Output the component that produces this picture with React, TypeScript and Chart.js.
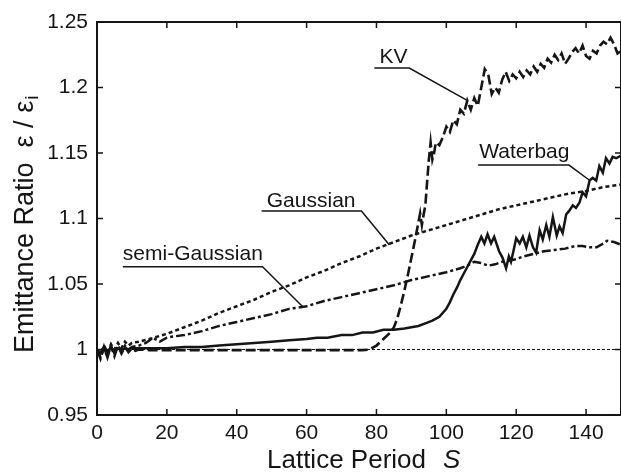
import React, { useEffect, useRef } from "react";
import { Chart, registerables } from "chart.js";

Chart.register(...registerables);

// ---------------- data ----------------
const kvS = [0, 1, 2, 3, 4, 5, 6, 7, 8, 9, 10, 11, 12, 15, 20, 30, 40, 50, 60, 70, 76, 78, 80, 82, 84, 85, 86, 87, 88, 89, 90, 91, 92, 92.5, 93, 93.5, 94, 94.5, 95, 95.5, 96, 96.5, 97, 98, 99, 100, 101, 102, 103, 104, 105, 106, 107, 108, 109, 110, 111, 112, 113, 114, 115, 116, 117, 118, 119, 120, 121, 122, 123, 124, 125, 126, 127, 128, 129, 130, 131, 132, 133, 134, 135, 136, 137, 138, 139, 140, 141, 142, 143, 144, 145, 146, 147, 148, 149, 150];
const kvE = [1.000, 0.993, 1.002, 0.994, 1.003, 0.995, 1.003, 0.997, 1.002, 0.998, 1.001, 0.999, 1.000, 0.9995, 0.9995, 0.9995, 0.9995, 0.9995, 0.9995, 0.9995, 0.9995, 1.000, 1.003, 1.008, 1.013, 1.017, 1.024, 1.034, 1.045, 1.057, 1.070, 1.083, 1.097, 1.104, 1.095, 1.103, 1.110, 1.128, 1.145, 1.158, 1.145, 1.150, 1.158, 1.156, 1.162, 1.170, 1.166, 1.175, 1.172, 1.183, 1.180, 1.190, 1.183, 1.192, 1.186, 1.200, 1.214, 1.210, 1.195, 1.200, 1.196, 1.206, 1.212, 1.205, 1.210, 1.207, 1.212, 1.208, 1.213, 1.210, 1.216, 1.212, 1.218, 1.215, 1.222, 1.219, 1.225, 1.221, 1.226, 1.218, 1.222, 1.227, 1.230, 1.226, 1.232, 1.224, 1.222, 1.228, 1.226, 1.232, 1.235, 1.233, 1.238, 1.233, 1.226, 1.228];

const wbS = [0, 1, 2, 3, 4, 5, 6, 7, 8, 9, 10, 15, 20, 25, 30, 35, 40, 45, 50, 55, 60, 63, 66, 70, 73, 76, 79, 82, 85, 88, 90, 92, 94, 96, 98, 100, 101, 102, 103, 104, 105, 106, 107, 108, 109, 110, 110.9, 111.8, 112.8, 113.7, 115.1, 116.1, 117.1, 117.9, 118.5, 119.2, 120, 121, 121.9, 122.9, 123.8, 124.8, 125.7, 126.7, 127.6, 128.6, 129.5, 130.5, 131.6, 132.4, 133.3, 134.3, 135.2, 136.2, 137.1, 138.1, 139, 140, 141, 141.9, 142.9, 143.8, 144.8, 145.7, 146.7, 147.6, 148.6, 150];
const wbE = [1.000, 0.997, 1.002, 0.998, 1.001, 0.999, 1.001, 1.000, 1.001, 1.000, 1.001, 1.001, 1.001, 1.002, 1.002, 1.003, 1.004, 1.005, 1.006, 1.007, 1.008, 1.009, 1.009, 1.011, 1.011, 1.013, 1.013, 1.015, 1.015, 1.016, 1.017, 1.018, 1.020, 1.022, 1.025, 1.031, 1.036, 1.042, 1.047, 1.053, 1.058, 1.063, 1.068, 1.073, 1.080, 1.086, 1.081, 1.088, 1.081, 1.086, 1.075, 1.070, 1.062, 1.071, 1.067, 1.075, 1.085, 1.081, 1.086, 1.078, 1.087, 1.078, 1.074, 1.091, 1.084, 1.095, 1.086, 1.101, 1.087, 1.094, 1.089, 1.103, 1.106, 1.110, 1.108, 1.112, 1.120, 1.117, 1.129, 1.131, 1.129, 1.140, 1.135, 1.146, 1.142, 1.147, 1.146, 1.148];

const gaS = [0, 1, 2, 3, 4, 5, 6, 7, 8, 9, 10, 12, 15, 20, 25, 30, 35, 40, 45, 50, 55, 60, 65, 70, 75, 80, 85, 90, 95, 100, 105, 110, 115, 120, 125, 130, 135, 140, 145, 150];
const gaE = [1.000, 0.997, 1.003, 0.998, 1.004, 1.000, 1.005, 1.001, 1.006, 1.003, 1.005, 1.006, 1.008, 1.012, 1.017, 1.022, 1.028, 1.033, 1.038, 1.044, 1.049, 1.055, 1.060, 1.066, 1.071, 1.077, 1.082, 1.087, 1.091, 1.095, 1.099, 1.103, 1.107, 1.110, 1.113, 1.116, 1.119, 1.121, 1.124, 1.126];

const sgS = [0, 1, 2, 3, 4, 5, 6, 7, 8, 9, 10, 12, 14, 16, 18, 20, 22, 25, 30, 35, 40, 45, 50, 55, 60, 65, 70, 75, 80, 85, 90, 95, 100, 104, 106, 108, 110, 112, 114, 116, 118, 120, 122, 125, 128, 131, 134, 137, 139, 141, 143, 145, 146, 148, 150];
const sgE = [1.000, 0.994, 1.001, 0.995, 1.002, 0.997, 1.003, 0.998, 1.003, 1.000, 1.002, 1.003, 1.005, 1.009, 1.006, 1.009, 1.010, 1.011, 1.014, 1.018, 1.021, 1.024, 1.027, 1.031, 1.033, 1.037, 1.040, 1.043, 1.046, 1.049, 1.053, 1.056, 1.059, 1.062, 1.064, 1.067, 1.066, 1.064, 1.065, 1.067, 1.068, 1.069, 1.071, 1.073, 1.075, 1.076, 1.077, 1.079, 1.079, 1.078, 1.078, 1.081, 1.083, 1.082, 1.080];

const refS = [0, 150];
const refE = [1, 1];

// tick values
const xTickVals = [0, 20, 40, 60, 80, 100, 120, 140];
const yTickVals = [0.95, 1, 1.05, 1.1, 1.15, 1.2, 1.25];

// annotation labels (anchors in data units)
const annLabels = ["KV", "Waterbag", "Gaussian", "semi-Gaussian"];
const annTextS = [80.9, 109.4, 48.6, 7.4];
const annTextE = [1.2187, 1.1462, 1.1088, 1.0687];
const annLineS0 = [79.4, 109.1, 47.1, 7.4];
const annLineS1 = [89.4, 135.1, 75.7, 47.4];
const annLineE = [1.2149, 1.1408, 1.1057, 1.0632];
const annTipS = [105.7, 140.9, 83.7, 58.9];
const annTipE = [1.1905, 1.1294, 1.0798, 1.0327];

const xTitle = "Lattice Period";
const xTitleVar = "S";
const yTitle = "Emittance Ratio  \u03b5 / \u03b5";
const yTitleSub = "i";

const FONT = '"Liberation Sans", Arial, Helvetica, sans-serif';
const INK = "#151515";

const pts = (s: number[], e: number[]) => s.map((v, i) => ({ x: v, y: e[i] }));

const framePlugin = {
  id: "frameAndNotes",
  afterDraw(chart: any) {
    const { ctx, chartArea: a, scales } = chart;
    const xs = scales.x;
    const ys = scales.y;
    ctx.save();
    ctx.strokeStyle = INK;
    ctx.fillStyle = INK;
    // frame
    ctx.lineWidth = 2;
    ctx.strokeRect(a.left, a.top, a.right - a.left, a.bottom - a.top);
    // inward ticks
    ctx.lineWidth = 1.5;
    ctx.beginPath();
    xs.ticks.forEach((t: any) => {
      const px = xs.getPixelForValue(t.value);
      ctx.moveTo(px, a.bottom);
      ctx.lineTo(px, a.bottom - 6);
      ctx.moveTo(px, a.top);
      ctx.lineTo(px, a.top + 6);
    });
    ys.ticks.forEach((t: any) => {
      const py = ys.getPixelForValue(t.value);
      ctx.moveTo(a.left, py);
      ctx.lineTo(a.left + 6, py);
      ctx.moveTo(a.right, py);
      ctx.lineTo(a.right - 6, py);
    });
    ctx.stroke();

    // annotations
    ctx.font = `21px ${FONT}`;
    ctx.textAlign = "left";
    ctx.textBaseline = "alphabetic";
    ctx.lineWidth = 1.5;
    annLabels.forEach((lab, i) => {
      ctx.fillText(lab, xs.getPixelForValue(annTextS[i]), ys.getPixelForValue(annTextE[i]));
      ctx.beginPath();
      ctx.moveTo(xs.getPixelForValue(annLineS0[i]), ys.getPixelForValue(annLineE[i]));
      ctx.lineTo(xs.getPixelForValue(annLineS1[i]), ys.getPixelForValue(annLineE[i]));
      ctx.lineTo(xs.getPixelForValue(annTipS[i]), ys.getPixelForValue(annTipE[i]));
      ctx.stroke();
    });

    // x title
    ctx.font = `26px ${FONT}`;
    ctx.fillText(xTitle, 267, 468);
    ctx.font = `italic 26px ${FONT}`;
    ctx.fillText(xTitleVar, 443, 468);

    // y title
    ctx.translate(33, 353);
    ctx.rotate(-Math.PI / 2);
    ctx.font = `27px ${FONT}`;
    ctx.fillText(yTitle, 0, 0);
    const w = ctx.measureText(yTitle).width;
    ctx.font = `19px ${FONT}`;
    ctx.fillText(yTitleSub, w + 1, 5);
    ctx.restore();
  },
};

export default function App() {
  const ref = useRef<HTMLCanvasElement | null>(null);
  useEffect(() => {
    document.body.style.margin = "0";
    const canvas = ref.current;
    if (!canvas) return;
    const line = (s: number[], e: number[], dash: number[], width: number) => ({
      data: pts(s, e),
      borderColor: INK,
      borderWidth: width,
      borderDash: dash,
      pointRadius: 0,
      showLine: true,
      fill: false,
      tension: 0,
    });
    const chart = new Chart(canvas, {
      type: "scatter",
      data: {
        datasets: [
          { ...line(refS, refE, [3, 2], 1), label: "ref" },
          { ...line(gaS, gaE, [4, 3], 2.5), label: "Gaussian" },
          { ...line(sgS, sgE, [9, 3, 3, 3], 2.5), label: "semi-Gaussian" },
          { ...line(wbS, wbE, [], 2.5), label: "Waterbag" },
          { ...line(kvS, kvE, [10, 4], 2.6), label: "KV" },
        ] as any,
      },
      options: {
        responsive: false,
        animation: false,
        devicePixelRatio: 1,
        layout: { padding: { top: 22, right: 0, left: 0, bottom: 0 } },
        plugins: { legend: { display: false }, tooltip: { enabled: false } },
        scales: {
          x: {
            type: "linear",
            min: 0,
            max: 150,
            grid: { display: false, drawTicks: false },
            border: { display: false },
            afterBuildTicks: (s: any) => {
              s.ticks = xTickVals.map((v) => ({ value: v }));
            },
            ticks: {
              autoSkip: false,
              padding: 6,
              color: INK,
              font: { family: FONT, size: 21 },
              maxRotation: 0,
              callback: (v: any) => String(v),
            },
            afterFit: (s: any) => {
              s.height = 58;
            },
          },
          y: {
            type: "linear",
            min: 0.95,
            max: 1.25,
            grid: { display: false, drawTicks: false },
            border: { display: false },
            afterBuildTicks: (s: any) => {
              s.ticks = yTickVals.map((v) => ({ value: v }));
            },
            ticks: {
              autoSkip: false,
              padding: 9,
              color: INK,
              font: { family: FONT, size: 21 },
              callback: (v: any) => String(Number(Number(v).toFixed(2))),
            },
            afterFit: (s: any) => {
              s.width = 97;
            },
          },
        },
      } as any,
      plugins: [framePlugin],
    });
    return () => chart.destroy();
  }, []);
  return (
    <div style={{ position: "absolute", left: 0, top: 0, width: 621, height: 473, background: "#fff" }}>
      <canvas ref={ref} width={621} height={473} style={{ display: "block" }} />
    </div>
  );
}
